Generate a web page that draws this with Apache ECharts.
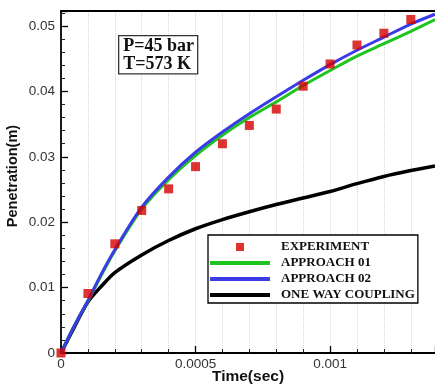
<!DOCTYPE html>
<html>
<head>
<meta charset="utf-8">
<script src="https://cdn.jsdelivr.net/npm/echarts@6/dist/echarts.min.js"></script>
<style>
html,body{margin:0;padding:0;background:#fff;}
#chart{width:435px;height:385px;}
</style>
</head>
<body>
<div id="chart"></div>
<script>
// Experimental data
const expTime = [0, 0.0001, 0.0002, 0.0003, 0.0004, 0.0005, 0.0006, 0.0007, 0.0008, 0.0009, 0.001, 0.0011, 0.0012, 0.0013];
const expPen  = [0, 0.0091, 0.0167, 0.0218, 0.0251, 0.0285, 0.0320, 0.0348, 0.0373, 0.0408, 0.0442, 0.0471, 0.0489, 0.0510];

// Simulation curves
const simTime    = [0, 0.00005, 0.0001, 0.00015, 0.0002, 0.0003, 0.0004, 0.0005, 0.0006, 0.0007, 0.0008, 0.0009, 0.001, 0.0011, 0.0012, 0.0013, 0.00139];
const approach01 = [0, 0.0042, 0.0079, 0.0119, 0.0156, 0.0220, 0.0265, 0.0302, 0.0333, 0.0360, 0.0384, 0.0409, 0.0432, 0.0454, 0.0473, 0.0492, 0.0510];
const approach02 = [0, 0.0042, 0.0080, 0.0121, 0.0158, 0.0223, 0.0269, 0.0307, 0.0338, 0.0366, 0.0392, 0.0417, 0.0441, 0.0463, 0.0483, 0.0503, 0.0518];
const oneWay     = [0, 0.0040, 0.0078, 0.0102, 0.0123, 0.0150, 0.0172, 0.0190, 0.0204, 0.0216, 0.0227, 0.0237, 0.0247, 0.0259, 0.0270, 0.0279, 0.0286];

const xTicks = [0, 0.0005, 0.001];
const yTicks = [0, 0.01, 0.02, 0.03, 0.04, 0.05];

const names = ['EXPERIMENT', 'APPROACH 01', 'APPROACH 02', 'ONE WAY COUPLING'];

function zip(a, b) { return a.map((v, i) => [v, b[i]]); }

const chart = echarts.init(document.getElementById('chart'), null, {renderer: 'canvas'});

const xMin = 0, xMax = 0.00139, yMin = 0, yMax = 0.0523;

chart.setOption({
  animation: false,
  backgroundColor: '#ffffff',
  grid: {left: 61, right: 0, top: 11, bottom: 32, containLabel: false, outerBoundsMode: 'none'},
  xAxis: [{
    type: 'value', min: xMin, max: xMax, interval: 0.0005,
    name: 'Time(sec)', nameLocation: 'middle', nameGap: 16, nameMoveOverlap: false,
    nameTextStyle: {fontFamily: 'Liberation Sans', fontWeight: 'bold', fontSize: 15.5, color: '#111'},
    axisLine: {show: true, lineStyle: {color: '#000', width: 1.8}},
    axisTick: {show: true, inside: true, length: 7, lineStyle: {color: '#000', width: 1.3}},
    minorTick: {show: true, splitNumber: 5, length: 4, lineStyle: {color: '#222', width: 1}},
    splitLine: {show: true, lineStyle: {color: '#d6d6d6', type: 'dotted', width: 1}},
    minorSplitLine: {show: true, lineStyle: {color: '#d6d6d6', type: 'dotted', width: 1}},
    axisLabel: {
      show: true, margin: 4, showMaxLabel: false,
      fontFamily: 'Liberation Sans', fontSize: 13.5, color: '#333',
      formatter: v => xTicks.includes(+v.toFixed(6)) ? (v === 0 ? '0' : String(+v.toFixed(6))) : ''
    }
  }, {
    type: 'value', position: 'top', min: xMin, max: xMax,
    axisLine: {show: true, lineStyle: {color: '#000', width: 1.8}},
    axisTick: {show: false}, axisLabel: {show: false}, splitLine: {show: false}
  }],
  yAxis: [{
    type: 'value', min: yMin, max: yMax, interval: 0.01,
    name: 'Penetration(m)', nameLocation: 'middle', nameGap: 41, nameRotate: 90, nameMoveOverlap: false,
    nameTextStyle: {fontFamily: 'Liberation Sans', fontWeight: 'bold', fontSize: 14.5, color: '#111', padding: [0, 0, 0, 12]},
    axisLine: {show: true, lineStyle: {color: '#000', width: 1.8}},
    axisTick: {show: true, inside: true, length: 7, lineStyle: {color: '#000', width: 1.3}},
    minorTick: {show: true, splitNumber: 5, length: 4, lineStyle: {color: '#222', width: 1}},
    splitLine: {show: false},
    axisLabel: {
      show: true, margin: 6, showMaxLabel: false,
      fontFamily: 'Liberation Sans', fontSize: 13.5, color: '#333',
      formatter: v => yTicks.includes(+v.toFixed(6)) ? (v === 0 ? '0' : String(+v.toFixed(6))) : ''
    }
  }],
  legend: {
    orient: 'vertical', left: 208, top: 235,
    data: [
      {name: names[0], icon: 'path://M0,0H10V10H0Z'},
      {name: names[1], itemStyle: {opacity: 0}},
      {name: names[2], itemStyle: {opacity: 0}},
      {name: names[3], itemStyle: {opacity: 0}}
    ],
    itemWidth: 60, itemHeight: 8, itemGap: 0,
    padding: [4, 3, 0, 0],
    borderColor: '#000', borderWidth: 1.3, backgroundColor: '#fff',
    symbolKeepAspect: true,
    lineStyle: {width: 4},
    textStyle: {fontFamily: 'Liberation Serif', fontWeight: 'bold', fontSize: 13, color: '#111', lineHeight: 16, padding: [0, 0, 0, 6]}
  },
  graphic: [{
    type: 'text', left: 118, top: 35, z: 100,
    style: {
      text: 'P=45 bar\nT=573 K',
      font: 'bold 18px "Liberation Serif"',
      lineHeight: 18,
      fill: '#111',
      backgroundColor: '#fff',
      borderColor: '#333', borderWidth: 1.3,
      padding: [1, 3, 0, 4]
    }
  }],
  series: [{
    name: names[0], type: 'scatter', symbol: 'rect', symbolSize: 9, symbolKeepAspect: true,
    itemStyle: {color: '#d40000'}, z: 5,
    data: zip(expTime, expPen)
  }, {
    name: names[1], type: 'line', symbol: 'none', smooth: 0.3,
    lineStyle: {color: '#1fc41f', width: 3}, itemStyle: {color: '#1fc41f'}, z: 3,
    data: zip(simTime, approach01)
  }, {
    name: names[2], type: 'line', symbol: 'none', smooth: 0.3,
    lineStyle: {color: '#3a3ae6', width: 3}, itemStyle: {color: '#3a3ae6'}, z: 4,
    data: zip(simTime, approach02)
  }, {
    name: names[3], type: 'line', symbol: 'none', smooth: 0.3,
    lineStyle: {color: '#000', width: 3.5}, itemStyle: {color: '#000'}, z: 2,
    data: zip(simTime, oneWay)
  }]
});
</script>
</body>
</html>
